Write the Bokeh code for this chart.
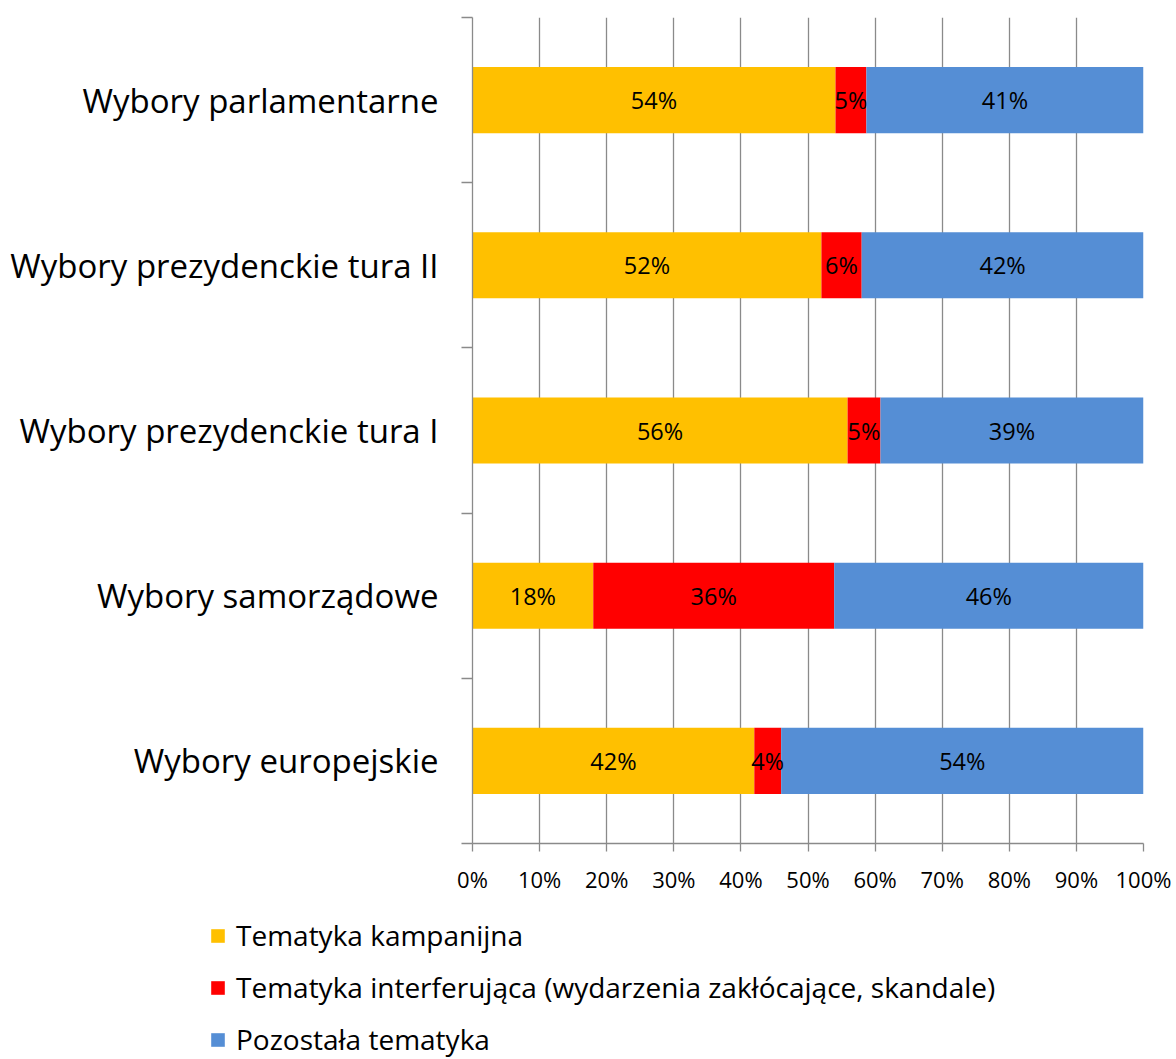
from bokeh.plotting import figure
from bokeh.models import ColumnDataSource, Range1d, FixedTicker, Legend, LegendItem
from bokeh.embed import file_html
from bokeh.resources import INLINE
from bokeh.core.properties import value

# ---- data ----
categories = ["Wybory europejskie", "Wybory samorządowe", "Wybory prezydenckie tura I",
              "Wybory prezydenckie tura II", "Wybory parlamentarne"]
kampanijna = [42.0, 18.0, 55.9, 52.0, 54.1]
interferujaca = [4.0, 35.9, 4.9, 6.0, 4.6]
pozostala = [54.0, 46.1, 39.2, 42.0, 41.3]
series_names = ["Tematyka kampanijna",
                "Tematyka interferująca (wydarzenia zakłócające, skandale)",
                "Pozostała tematyka"]
x_ticks = [0, 10, 20, 30, 40, 50, 60, 70, 80, 90, 100]
x_tick_labels = ["0%", "10%", "20%", "30%", "40%", "50%", "60%", "70%", "80%", "90%", "100%"]

colors = ["#FFC000", "#FF0000", "#558ED5"]
FONT = "Open Sans"
GRID = "#8a8a8a"

ypos = [i + 0.5 for i in range(len(categories))]
src = ColumnDataSource(dict(y=ypos, k=kampanijna, i=interferujaca, p=pozostala))

p = figure(width=1176, height=898, x_range=Range1d(0, 100), y_range=Range1d(0, 5),
           output_backend="svg", toolbar_location=None,
           min_border_left=472, min_border_right=33, min_border_top=17, min_border_bottom=55)
p.outline_line_color = None
p.background_fill_color = "white"

renderers = p.hbar_stack(["k", "i", "p"], y="y", height=0.4, color=colors, source=src,
                         line_color=None)

# data labels
lx, ly, lt = [], [], []
for j in range(len(categories)):
    vals = [kampanijna[j], interferujaca[j], pozostala[j]]
    cum = 0
    for v in vals:
        lx.append(cum + v / 2)
        ly.append(ypos[j])
        lt.append(f"{round(v)}%")
        cum += v
p.text(x=lx, y=ly, text=lt, text_align="center", text_baseline="middle",
       text_font=value(FONT), text_font_size="23.5px", text_color="black")

# x axis
xa = p.xaxis[0]
xa.ticker = FixedTicker(ticks=x_ticks, minor_ticks=[])
xa.major_label_overrides = {t: l for t, l in zip(x_ticks, x_tick_labels)}
xa.major_tick_out = 8
xa.major_tick_in = 0
xa.minor_tick_out = 0
xa.minor_tick_in = 0
xa.axis_line_color = GRID
xa.axis_line_width = 1.3
xa.major_tick_line_color = GRID
xa.major_tick_line_width = 1.3
xa.major_label_text_font = FONT
xa.major_label_text_font_size = "22px"
xa.major_label_text_color = "black"
xa.major_label_standoff = 12

# y axis
ya = p.yaxis[0]
ya.ticker = FixedTicker(ticks=ypos, minor_ticks=[0, 1, 2, 3, 4, 5])
ya.major_label_overrides = {y: c for y, c in zip(ypos, categories)}
ya.major_tick_out = 0
ya.major_tick_in = 0
ya.minor_tick_out = 11
ya.minor_tick_in = 0
ya.minor_tick_line_color = GRID
ya.minor_tick_line_width = 1.3
ya.axis_line_color = GRID
ya.axis_line_width = 1.3
ya.major_label_text_font = FONT
ya.major_label_text_font_size = "33px"
ya.major_label_text_color = "black"
ya.major_label_standoff = 23

p.xgrid.ticker = FixedTicker(ticks=x_ticks)
p.xgrid.grid_line_color = GRID
p.xgrid.grid_line_width = 1.3
p.ygrid.grid_line_color = None

# legend (separate canvas below the chart)
lg = figure(width=1176, height=161, x_range=Range1d(0, 1), y_range=Range1d(0, 1),
            output_backend="svg", toolbar_location=None, min_border=0)
lg.outline_line_color = None
lg.border_fill_color = "white"
lg.axis.visible = False
lg.grid.visible = False
swatches = [lg.hbar(y=[0.5], left=[0], right=[0], height=0, color=c, line_color=None)
            for c in colors]
leg = Legend(items=[LegendItem(label=n, renderers=[r]) for n, r in zip(series_names, swatches)],
             location=(209, 0), orientation="vertical",
             glyph_width=17, glyph_height=17, label_height=40, spacing=12,
             label_standoff=10, padding=0, margin=0,
             border_line_color=None, background_fill_alpha=0,
             label_text_font=FONT, label_text_font_size="28px", label_text_color="black")
lg.add_layout(leg)

open("out.html", "w").write(file_html([p, lg], INLINE))
